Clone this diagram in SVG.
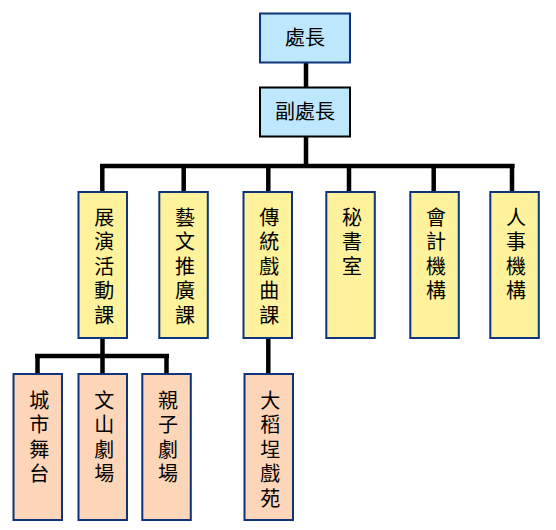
<svg xmlns="http://www.w3.org/2000/svg" width="556" height="530" viewBox="0 0 556 530">
<style>
.box{stroke:#0d347a;stroke-width:2}
.blue{fill:#bde7fd}
.yellow{fill:#fff29c}
.peach{fill:#fdd5b9}
.lbl{font-family:"Liberation Serif","Noto Sans CJK TC",serif;font-size:20px;fill:#000;text-anchor:middle;dominant-baseline:central}
.vl{font-family:"Liberation Serif","Noto Sans CJK TC",serif;font-size:20px;fill:#000;writing-mode:vertical-rl;letter-spacing:4.5px}
.conn{stroke:#000;stroke-width:4.5;fill:none;stroke-linecap:butt}
</style>
<rect width="556" height="530" fill="#fff"/>
<g id="connectors" class="conn">
<line x1="306" y1="63" x2="306" y2="87"/>
<line x1="306" y1="137" x2="306" y2="166"/>
<line x1="100" y1="166" x2="514.5" y2="166"/>
<line x1="102.3" y1="164" x2="102.3" y2="192"/>
<line x1="183.7" y1="166" x2="183.7" y2="192"/>
<line x1="268.3" y1="166" x2="268.3" y2="192"/>
<line x1="349" y1="166" x2="349" y2="192"/>
<line x1="433.7" y1="166" x2="433.7" y2="192"/>
<line x1="512" y1="164" x2="512" y2="192"/>
<line x1="102.5" y1="338" x2="102.5" y2="356"/>
<line x1="35" y1="356" x2="169" y2="356"/>
<line x1="37.5" y1="354" x2="37.5" y2="374"/>
<line x1="102.5" y1="356" x2="102.5" y2="374"/>
<line x1="166.5" y1="354" x2="166.5" y2="374"/>
<line x1="268.3" y1="338" x2="268.3" y2="374"/>
</g>
<g id="n-chief"><rect class="box blue" x="260" y="13.5" width="90" height="49"/><text class="lbl" x="305" y="38">處長</text></g>
<g id="n-deputy"><rect class="blue" x="260" y="87.5" width="90" height="49" stroke="#000" stroke-width="2"/><text class="lbl" x="305" y="112">副處長</text></g>
<g id="n-perf"><rect class="box yellow" x="78.5" y="192" width="48.5" height="146"/><text class="vl" x="102.7" y="207">展演活動課</text></g>
<g id="n-arts"><rect class="box yellow" x="159.3" y="192" width="48.5" height="146"/><text class="vl" x="183.5" y="207">藝文推廣課</text></g>
<g id="n-opera"><rect class="box yellow" x="243.5" y="192" width="48.5" height="146"/><text class="vl" x="267.7" y="207">傳統戲曲課</text></g>
<g id="n-secretary"><rect class="box yellow" x="326.3" y="192" width="48.5" height="146"/><text class="vl" x="350.5" y="207">秘書室</text></g>
<g id="n-accounting"><rect class="box yellow" x="410.3" y="192" width="48.5" height="146"/><text class="vl" x="434.5" y="207">會計機構</text></g>
<g id="n-personnel"><rect class="box yellow" x="490.3" y="192" width="48.5" height="146"/><text class="vl" x="514.5" y="207">人事機構</text></g>
<g id="n-citystage"><rect class="box peach" x="13.5" y="374" width="48.5" height="146"/><text class="vl" x="37.7" y="390">城市舞台</text></g>
<g id="n-wenshan"><rect class="box peach" x="78.5" y="374" width="48.5" height="146"/><text class="vl" x="102.7" y="390">文山劇場</text></g>
<g id="n-family"><rect class="box peach" x="142.3" y="374" width="48.5" height="146"/><text class="vl" x="166.5" y="390">親子劇場</text></g>
<g id="n-dadaocheng"><rect class="box peach" x="244.5" y="374" width="48.5" height="146"/><text class="vl" x="268.7" y="390">大稻埕戲苑</text></g>
</svg>
